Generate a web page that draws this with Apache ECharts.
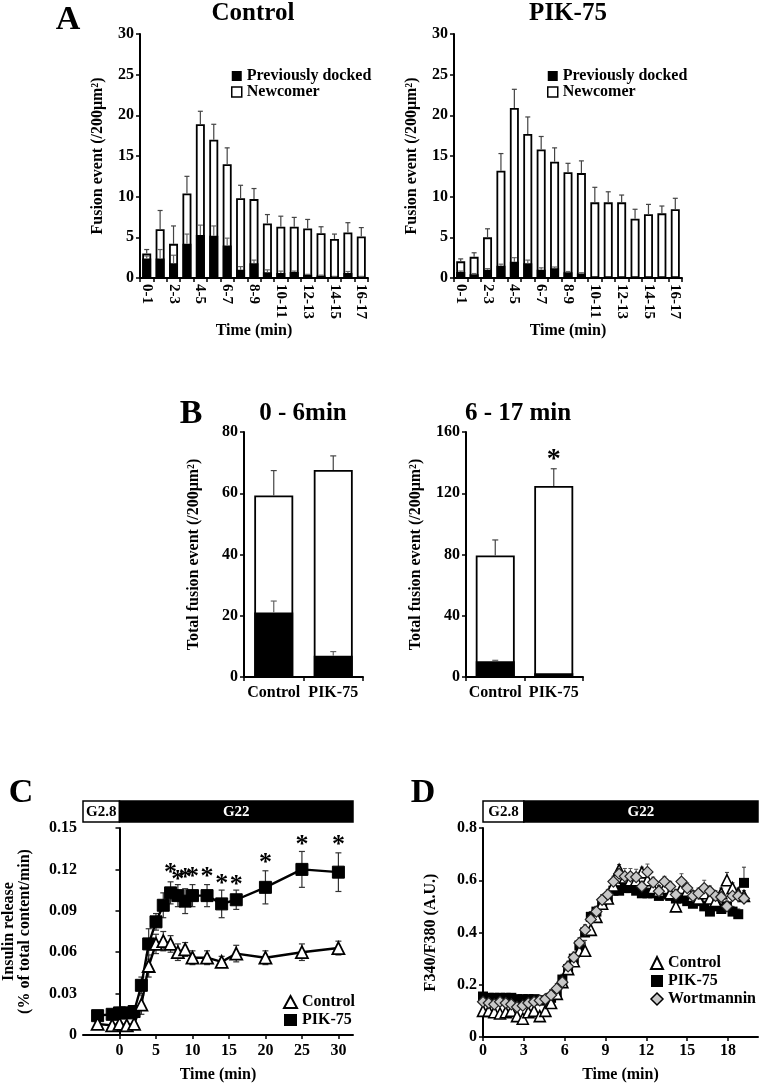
<!DOCTYPE html>
<html><head><meta charset="utf-8">
<script src="https://cdn.jsdelivr.net/npm/echarts@6/dist/echarts.min.js"></script>
<style>html,body{margin:0;padding:0;background:#fff}#c{width:763px;height:1084px}</style>
</head><body><div id="c"></div>
<script>
// ---------- DATA ----------
const aCats = ['0-1','1-2','2-3','3-4','4-5','5-6','6-7','7-8','8-9','9-10','10-11','11-12','12-13','13-14','14-15','15-16','16-17'];
const ctrlTotal    = [3.0,6.0,4.2,10.4,18.9,17.0,14.0,9.8,9.7,6.7,6.3,6.3,6.1,5.5,4.8,5.6,5.1];
const ctrlTotalErr = [0.5,2.3,2.2,2.1,1.6,1.9,2.0,1.6,1.3,1.1,1.3,1.15,1.1,0.8,0.6,1.2,1.1];
const ctrlDocked   = [2.4,2.4,1.8,4.2,5.3,5.2,4.0,1.0,1.8,0.7,0.6,0.75,0.4,0.3,0.15,0.6,0.15];
const ctrlDockedErr= [0.3,1.1,1.0,1.2,1.2,1.2,0.9,0.4,0.4,0.3,0.25,0.1,0.05,0.05,0.05,0.2,0.05];
const pikTotal     = [2.05,2.6,5.0,13.2,20.9,17.7,15.8,14.3,13.0,12.9,9.3,9.3,9.3,7.3,7.85,7.95,8.45];
const pikTotalErr  = [0.3,0.5,1.05,2.1,2.3,2.1,1.6,1.7,1.1,1.5,1.85,1.3,0.9,1.15,1.2,0.9,1.35];
const pikDocked    = [0.75,0.45,1.0,1.5,2.0,1.8,1.0,1.2,0.7,0.55,0.05,0.05,0.05,0.05,0.05,0.05,0.05];
const pikDockedErr = [0.1,0.1,0.15,0.2,0.5,0.4,0.25,0.15,0.1,0.1,0,0,0,0,0,0,0];

const bCats = ['Control','PIK-75'];
const b1Total = [59.3,67.6], b1TotalErr = [8.1,4.6], b1Docked = [21.1,6.9], b1DockedErr = [3.7,1.4];
const b2Total = [79.3,124.7], b2TotalErr = [10.2,11.3], b2Docked = [10.3,2.5], b2DockedErr = [0.6,0];
const b2StarY = [null,145];

const cTime    = [-3,-1,0,1,2,3,4,5,6,7,8,9,10,12,14,16,20,25,30];
const cCtrl    = [0.008,0.007,0.008,0.007,0.008,0.022,0.050,0.066,0.068,0.066,0.060,0.062,0.056,0.056,0.053,0.059,0.056,0.060,0.063];
const cCtrlErr = [0.001,0.001,0.001,0.001,0.001,0.007,0.008,0.007,0.007,0.006,0.006,0.005,0.005,0.005,0.004,0.006,0.005,0.006,0.005];
const cPik     = [0.014,0.015,0.016,0.016,0.017,0.036,0.066,0.082,0.094,0.103,0.101,0.097,0.101,0.101,0.095,0.098,0.107,0.120,0.118];
const cPikErr  = [0.002,0.003,0.004,0.004,0.004,0.006,0.011,0.006,0.009,0.008,0.008,0.009,0.008,0.008,0.010,0.007,0.012,0.013,0.014];
const cStarTime = [7,8,9,10,12,14,16,20,25,30];
const cStarY    = [0.121,0.116,0.117,0.118,0.118,0.113,0.112,0.128,0.141,0.141];
const cPhaseStart = [-5,0], cPhaseEnd = [0,32];
const dPhaseStart = [0,3], dPhaseEnd = [3,20.2];
const phaseLabels = ['G2.8','G22'];

const dTime = [0,0.42,0.83,1.25,1.67,2.08,2.5,2.92,3.33,3.75,4.17,4.58,5,5.42,5.83,6.25,6.67,7.08,7.5,7.92,8.33,8.75,9.17,9.58,10,10.42,10.83,11.25,11.67,12.08,12.5,12.92,13.33,13.75,14.17,14.58,15,15.42,15.83,16.25,16.67,17.08,17.5,17.92,18.33,18.75,19.17];
const dCtrl = [0.10,0.10,0.095,0.09,0.095,0.10,0.08,0.07,0.095,0.10,0.08,0.10,
  0.13,0.165,0.21,0.26,0.29,0.33,0.33,0.41,0.46,0.51,0.53,0.58,0.64,0.61,0.60,0.60,0.63,0.60,0.57,0.56,0.57,0.55,0.50,0.57,0.56,0.54,0.53,0.55,0.53,0.52,0.55,0.60,0.57,0.55,0.54];
const dPik = [0.155,0.15,0.15,0.15,0.15,0.15,0.145,0.145,0.145,0.145,0.14,0.14,
  0.15,0.17,0.22,0.26,0.30,0.35,0.40,0.46,0.48,0.51,0.53,0.56,0.56,0.57,0.57,0.56,0.55,0.55,0.55,0.54,0.55,0.54,0.53,0.53,0.52,0.51,0.52,0.50,0.48,0.50,0.49,0.50,0.48,0.47,0.59];
const dWort = [0.135,0.13,0.125,0.135,0.13,0.125,0.115,0.12,0.13,0.135,0.14,0.145,
  0.16,0.185,0.21,0.27,0.305,0.36,0.41,0.45,0.48,0.525,0.545,0.595,0.625,0.615,0.615,0.612,0.576,0.632,0.592,0.558,0.595,0.576,0.545,0.595,0.57,0.54,0.55,0.57,0.558,0.54,0.536,0.50,0.54,0.54,0.53];
const dCtrlErr = [0.01,0.01,0.01,0.01,0.01,0.01,0.01,0.01,0.01,0.01,0.01,0.01,
  0.02,0.02,0.02,0.02,0.02,0.03,0.04,0.03,0.02,0.02,0.02,0.02,0.02,0.02,0.02,0.02,0.02,0.02,0.02,0.02,0.02,0.02,0.02,0.02,0.02,0.02,0.02,0.02,0.02,0.02,0.02,0.03,0.02,0.02,0.02];
const dPikErr = [0.01,0.01,0.01,0.01,0.01,0.01,0.01,0.01,0.01,0.01,0.01,0.01,
  0.03,0.02,0.02,0.02,0.02,0.02,0.02,0.02,0.02,0.02,0.02,0.02,0.02,0.02,0.02,0.02,0.02,0.02,0.02,0.02,0.02,0.02,0.02,0.02,0.02,0.02,0.02,0.02,0.02,0.02,0.02,0.02,0.02,0.02,0.06];
const dWortErr = [0.01,0.01,0.01,0.01,0.01,0.01,0.01,0.01,0.01,0.01,0.01,0.01,
  0.02,0.02,0.02,0.02,0.02,0.02,0.02,0.02,0.02,0.02,0.02,0.02,0.02,0.03,0.03,0.03,0.02,0.03,0.02,0.02,0.02,0.02,0.02,0.03,0.02,0.02,0.02,0.03,0.02,0.02,0.02,0.02,0.02,0.02,0.02];

// ---------- HELPERS ----------
const F = 'Liberation Serif';
const chart = echarts.init(document.getElementById('c'), null, {renderer:'canvas'});
const zip = (a,b,c) => a.map((v,i)=> c ? [v,b[i],c[i]] : [v,b[i]]);
const idx3 = (b,c) => b.map((v,i)=>[i,v,c[i]]);

function errUp(capHalf, color, lw){
  return function(params, api){
    const x = api.value(0), v = api.value(1), e = api.value(2);
    if (v == null || isNaN(v) || !(e > 0)) return;
    const p0 = api.coord([x, v]), p1 = api.coord([x, v + e]);
    return {type:'group', children:[
      {type:'line', shape:{x1:p0[0],y1:p0[1],x2:p1[0],y2:p1[1]}, style:{stroke:color,lineWidth:lw}},
      {type:'line', shape:{x1:p1[0]-capHalf,y1:p1[1],x2:p1[0]+capHalf,y2:p1[1]}, style:{stroke:color,lineWidth:lw}}
    ]};
  };
}
function errSym(capHalf, color, lw){
  return function(params, api){
    const x = api.value(0), v = api.value(1), e = api.value(2);
    const p0 = api.coord([x, v - e]), p1 = api.coord([x, v + e]);
    return {type:'group', children:[
      {type:'line', shape:{x1:p0[0],y1:p0[1],x2:p1[0],y2:p1[1]}, style:{stroke:color,lineWidth:lw}},
      {type:'line', shape:{x1:p1[0]-capHalf,y1:p1[1],x2:p1[0]+capHalf,y2:p1[1]}, style:{stroke:color,lineWidth:lw}},
      {type:'line', shape:{x1:p0[0]-capHalf,y1:p0[1],x2:p0[0]+capHalf,y2:p0[1]}, style:{stroke:color,lineWidth:lw}}
    ]};
  };
}
function starItem(size, dy){
  return function(params, api){
    const v = api.value(1);
    if (v == null || isNaN(v)) return;
    const p = api.coord([api.value(0), v]);
    return {type:'text', x:p[0], y:p[1]+dy, style:{text:'*', font:'bold '+size+'px "'+F+'"', fill:'#000', align:'center', verticalAlign:'middle'}};
  };
}
function phaseItem(params, api){
  const i = params.dataIndex;
  const x1 = api.coord([api.value(0), 0])[0], x2 = api.coord([api.value(1), 0])[0];
  const top = params.coordSys.y - 27, h = 21;
  const white = i === 0;
  return {type:'group', children:[
    {type:'rect', shape:{x:x1, y:top, width:x2-x1, height:h}, style:{fill: white?'#fff':'#000', stroke:'#000', lineWidth:1.5}},
    {type:'text', x:(x1+x2)/2, y:top+h/2+1, style:{text:phaseLabels[i], font:'bold 15px "'+F+'"', fill: white?'#000':'#fff', align:'center', verticalAlign:'middle'}}
  ]};
}

const lab = (extra) => Object.assign({color:'#000', fontFamily:F, fontWeight:'bold', fontSize:16, margin:6}, extra||{});
const axLine = {show:true, lineStyle:{color:'#000', width:2}};
const tick = (extra) => Object.assign({show:true, inside:false, length:4, lineStyle:{color:'#000', width:1.5}}, extra||{});
const nameStyle = {color:'#000', fontFamily:F, fontWeight:'bold', fontSize:16};

function catX(grid, data, extraLabel, name, nameGap){
  return {type:'category', gridIndex:grid, data:data, axisLine:axLine, axisTick:tick({interval:0}),
    axisLabel:lab(extraLabel), splitLine:{show:false}, name:name||'', nameLocation:'middle', nameGap:nameGap||30, nameTextStyle:nameStyle};
}
function valY(grid, max, interval, name, nameGap, fmt){
  return {type:'value', gridIndex:grid, min:0, max:max, interval:interval, axisLine:axLine, axisTick:tick(),
    axisLabel:lab(fmt?{formatter:fmt}:{}), splitLine:{show:false}, name:name, nameLocation:'middle', nameGap:nameGap, nameTextStyle:nameStyle};
}

const series = [];
function stackedPanel(xi, total, totalErr, docked, dockedErr, barW, capHalf){
  series.push({type:'bar', name:'Newcomer', xAxisIndex:xi, yAxisIndex:xi, data:total, barWidth:barW, barGap:'-100%',
    itemStyle:{color:'#fff', borderColor:'#000', borderWidth:1.8}, z:2, silent:true});
  series.push({type:'bar', name:'Previously docked', xAxisIndex:xi, yAxisIndex:xi, data:docked, barWidth:barW, barGap:'-100%',
    itemStyle:{color:'#000', borderColor:'#000', borderWidth:1.8}, z:3, silent:true});
  series.push({type:'custom', xAxisIndex:xi, yAxisIndex:xi, data:idx3(total,totalErr), renderItem:errUp(capHalf,'#444',1.2), z:4, silent:true, encode:{x:0,y:1}});
  series.push({type:'custom', xAxisIndex:xi, yAxisIndex:xi, data:idx3(docked,dockedErr), renderItem:errUp(capHalf,'#666',1.2), z:4, silent:true, encode:{x:0,y:1}});
}
stackedPanel(0, ctrlTotal, ctrlTotalErr, ctrlDocked, ctrlDockedErr, 9, 2.5);
stackedPanel(1, pikTotal, pikTotalErr, pikDocked, pikDockedErr, 9, 2.5);
stackedPanel(2, b1Total, b1TotalErr, b1Docked, b1DockedErr, 39, 3);
stackedPanel(3, b2Total, b2TotalErr, b2Docked, b2DockedErr, 39, 3);
series.push({type:'custom', xAxisIndex:3, yAxisIndex:3, data:b2StarY.map((v,i)=>[i,v]), renderItem:starItem(28,5), z:5, silent:true, encode:{x:0,y:1}});

// Panel C
series.push({type:'custom', xAxisIndex:4, yAxisIndex:4, data:zip(cPhaseStart,cPhaseEnd), renderItem:phaseItem, clip:false, silent:true, encode:{x:[0,1]}});
series.push({type:'custom', xAxisIndex:4, yAxisIndex:4, data:zip(cTime,cPik,cPikErr), renderItem:errSym(3,'#333',1.2), z:2, silent:true, encode:{x:0,y:1}});
series.push({type:'custom', xAxisIndex:4, yAxisIndex:4, data:zip(cTime,cCtrl,cCtrlErr), renderItem:errSym(3,'#333',1.2), z:2, silent:true, encode:{x:0,y:1}});
series.push({type:'line', name:'PIK-75', xAxisIndex:4, yAxisIndex:4, data:zip(cTime,cPik), symbol:'rect', symbolSize:12,
  itemStyle:{color:'#000', borderColor:'#000', borderWidth:1}, lineStyle:{color:'#000', width:2.4}, z:3, silent:true});
series.push({type:'line', name:'Control', xAxisIndex:4, yAxisIndex:4, data:zip(cTime,cCtrl), symbol:'triangle', symbolSize:12, showAllSymbol:true,
  itemStyle:{color:'#fff', borderColor:'#000', borderWidth:1.8}, lineStyle:{color:'#000', width:2.4}, z:4, silent:true});
series.push({type:'custom', xAxisIndex:4, yAxisIndex:4, data:zip(cStarTime,cStarY), renderItem:starItem(26,5), z:5, silent:true, encode:{x:0,y:1}});

// Panel D
series.push({type:'custom', xAxisIndex:5, yAxisIndex:5, data:zip(dPhaseStart,dPhaseEnd), renderItem:phaseItem, clip:false, silent:true, encode:{x:[0,1]}});
series.push({type:'custom', xAxisIndex:5, yAxisIndex:5, data:zip(dTime,dPik,dPikErr), renderItem:errUp(2,'#333',1), z:2, silent:true, encode:{x:0,y:1}});
series.push({type:'custom', xAxisIndex:5, yAxisIndex:5, data:zip(dTime,dCtrl,dCtrlErr), renderItem:errUp(2,'#333',1), z:2, silent:true, encode:{x:0,y:1}});
series.push({type:'custom', xAxisIndex:5, yAxisIndex:5, data:zip(dTime,dWort,dWortErr), renderItem:errUp(2,'#555',1), z:2, silent:true, encode:{x:0,y:1}});
series.push({type:'scatter', name:'PIK-75', xAxisIndex:5, yAxisIndex:5, data:zip(dTime,dPik), symbol:'rect', symbolSize:10,
  itemStyle:{color:'#000', opacity:1}, z:3, silent:true});
series.push({type:'scatter', name:'Control', xAxisIndex:5, yAxisIndex:5, data:zip(dTime,dCtrl), symbol:'triangle', symbolSize:11,
  itemStyle:{color:'#fff', borderColor:'#000', borderWidth:1.6, opacity:1}, z:4, silent:true});
series.push({type:'scatter', name:'Wortmannin', xAxisIndex:5, yAxisIndex:5, data:zip(dTime,dWort), symbol:'diamond', symbolSize:11,
  itemStyle:{color:'#c8c8c8', borderColor:'#222', borderWidth:1.2, opacity:1}, z:5, silent:true});

const fusionName = 'Fusion event (/200\u03bcm\u00b2)';
const totalName = 'Total fusion event (/200\u03bcm\u00b2)';

const legendText = {color:'#000', fontFamily:F, fontWeight:'bold', fontSize:16, lineHeight:15};
function aLegend(left){
  return {selectedMode:false, orient:'vertical', left:left, top:63, itemWidth:10, itemHeight:10, itemGap:0, textStyle:legendText,
    data:[{name:'Previously docked', icon:'rect', itemStyle:{color:'#000', borderWidth:0}},
          {name:'Newcomer', icon:'rect', itemStyle:{color:'#fff', borderColor:'#000', borderWidth:1.5}}]};
}

const option = {
  animation:false,
  backgroundColor:'#fff',
  grid:[
    {left:140, top:34, width:228, height:244},
    {left:454, top:34, width:228, height:244},
    {left:244, top:432, width:119, height:245},
    {left:466, top:432, width:117, height:245},
    {left:80, top:828, width:273, height:210},
    {left:483, top:828, width:275, height:210}
  ],
  xAxis:[
    catX(0, aCats, {interval:1, rotate:-90, fontSize:15}, 'Time (min)', 28),
    catX(1, aCats, {interval:1, rotate:-90, fontSize:15}, 'Time (min)', 28),
    catX(2, bCats, {interval:0, hideOverlap:false, margin:8}),
    catX(3, bCats, {interval:0, hideOverlap:false, margin:8}),
    {type:'value', gridIndex:4, min:-5, max:32, axisLine:axLine,
      axisTick:tick({customValues:[0,5,10,15,20,25,30]}), axisLabel:lab({customValues:[0,5,10,15,20,25,30], margin:8}),
      splitLine:{show:false}, name:'Time (min)', nameLocation:'middle', nameGap:32, nameTextStyle:nameStyle},
    {type:'value', gridIndex:5, min:0, max:20.2, axisLine:axLine,
      axisTick:tick({customValues:[0,3,6,9,12,15,18]}), axisLabel:lab({customValues:[0,3,6,9,12,15,18], margin:6}),
      splitLine:{show:false}, name:'Time (min)', nameLocation:'middle', nameGap:30, nameTextStyle:nameStyle}
  ],
  yAxis:[
    valY(0, 30, 5, fusionName, 34),
    valY(1, 30, 5, fusionName, 34),
    valY(2, 80, 20, totalName, 42),
    valY(3, 160, 40, totalName, 42),
    valY(4, 0.15, 0.03, 'Insulin release\n(% of total content/min)', 50, v => v===0 ? '0' : v.toFixed(2)),
    valY(5, 0.8, 0.2, 'F340/F380 (A.U.)', 44, v => v===0 ? '0' : v.toFixed(1))
  ],
  legend:[
    aLegend(226), aLegend(542),
    {selectedMode:false, orient:'vertical', left:278, top:989, itemWidth:13, itemHeight:12, itemGap:2, textStyle:legendText,
      data:[{name:'Control', icon:'triangle', itemStyle:{color:'#fff', borderColor:'#000', borderWidth:2}},
            {name:'PIK-75', icon:'rect', itemStyle:{color:'#000', borderWidth:0}}]},
    {selectedMode:false, orient:'vertical', left:645, top:950, itemWidth:12, itemHeight:12, itemGap:2, textStyle:legendText,
      data:[{name:'Control', icon:'triangle', itemStyle:{color:'#fff', borderColor:'#000', borderWidth:2}},
            {name:'PIK-75', icon:'rect', itemStyle:{color:'#000', borderWidth:0}},
            {name:'Wortmannin', icon:'diamond', itemStyle:{color:'#c8c8c8', borderColor:'#000', borderWidth:1.5}}]}
  ],
  graphic:[
    {type:'text', x:68, y:20, style:{text:'A', font:'bold 34px "'+F+'"', fill:'#000', align:'center', verticalAlign:'middle'}},
    {type:'text', x:253, y:14, style:{text:'Control', font:'bold 25px "'+F+'"', fill:'#000', align:'center', verticalAlign:'middle'}},
    {type:'text', x:568, y:14, style:{text:'PIK-75', font:'bold 25px "'+F+'"', fill:'#000', align:'center', verticalAlign:'middle'}},
    {type:'text', x:191, y:414, style:{text:'B', font:'bold 34px "'+F+'"', fill:'#000', align:'center', verticalAlign:'middle'}},
    {type:'text', x:303, y:414, style:{text:'0 - 6min', font:'bold 25px "'+F+'"', fill:'#000', align:'center', verticalAlign:'middle'}},
    {type:'text', x:518, y:414, style:{text:'6 - 17 min', font:'bold 25px "'+F+'"', fill:'#000', align:'center', verticalAlign:'middle'}},
    {type:'text', x:21, y:793, style:{text:'C', font:'bold 34px "'+F+'"', fill:'#000', align:'center', verticalAlign:'middle'}},
    {type:'text', x:423, y:793, style:{text:'D', font:'bold 34px "'+F+'"', fill:'#000', align:'center', verticalAlign:'middle'}}
  ],
  series:series
};
chart.setOption(option);
</script>
</body></html>
